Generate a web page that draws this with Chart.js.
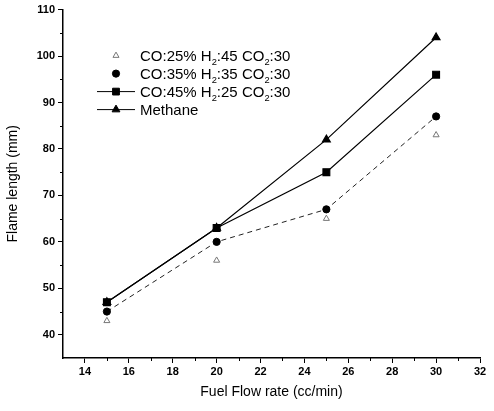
<!DOCTYPE html>
<html><head><meta charset="utf-8">
<script src="https://cdn.jsdelivr.net/npm/chart.js@4"></script>
<style>html,body{margin:0;padding:0;background:#fff}#w{width:494px;height:411px}</style>
</head><body><div id="w"><canvas id="c" width="494" height="411"></canvas></div>
<script>
const flowRates = [15, 20, 25, 30];
const co25 = [43, 56, 65, 83];
const co35 = [45, 60, 67, 87];
const co45 = [47, 63, 75, 96];
const methane = [47, 63, 82, 104];
const seriesNames = ['CO:25% H\u2082:45 CO\u2082:30', 'CO:35% H\u2082:35 CO\u2082:30', 'CO:45% H\u2082:25 CO\u2082:30', 'Methane'];
const xTickValues = [14, 16, 18, 20, 22, 24, 26, 28, 30, 32];
const yTickValues = [40, 50, 60, 70, 80, 90, 100, 110];
const xMinorValues = [15, 17, 19, 21, 23, 25, 27, 29, 31];
const yMinorValues = [45, 55, 65, 75, 85, 95, 105];

const pts = arr => arr.map((v, i) => ({x: flowRates[i], y: v}));
const FONT = 'Liberation Sans, Arial, sans-serif';

const datasets = [
  {label: seriesNames[0], data: pts(co25), showLine: false, pointStyle: 'triangle', pointRadius: 3.5,
   backgroundColor: '#fff', borderColor: '#777', pointBorderColor: '#777', pointBorderWidth: 1, legendLine: false},
  {label: seriesNames[1], data: pts(co35), showLine: true, borderDash: [5, 4], borderColor: '#222', borderWidth: 1,
   pointStyle: 'circle', pointRadius: 3.6, backgroundColor: '#000', pointBorderColor: '#000', legendLine: false},
  {label: seriesNames[2], data: pts(co45), showLine: true, borderColor: '#000', borderWidth: 1.2,
   pointStyle: 'rect', pointRadius: 4.8, backgroundColor: '#000', pointBorderColor: '#000', legendLine: true},
  {label: seriesNames[3], data: pts(methane), showLine: true, borderColor: '#000', borderWidth: 1.2,
   pointStyle: 'triangle', pointRadius: 4.5, backgroundColor: '#000', pointBorderColor: '#000', legendLine: true}
];

const SUBS = {'\u2082': '2'};
function drawRich(ctx, text, x, y, size) {
  let cx = x;
  for (const ch of text) {
    if (SUBS[ch]) {
      ctx.font = (size * 0.62) + 'px ' + FONT;
      ctx.fillText(SUBS[ch], cx, y + size * 0.38);
      cx += ctx.measureText(SUBS[ch]).width;
    } else {
      ctx.font = size + 'px ' + FONT;
      ctx.fillText(ch, cx, y);
      cx += ctx.measureText(ch).width;
    }
  }
}

const extras = {
  id: 'extras',
  afterDraw(chart) {
    const ctx = chart.ctx;
    const xs = chart.scales.x, ys = chart.scales.y;
    ctx.save();
    ctx.strokeStyle = '#000';
    ctx.lineWidth = 1;
    ctx.beginPath();
    xMinorValues.forEach(v => { const px = Math.round(xs.getPixelForValue(v)) + 0.5; ctx.moveTo(px, ys.bottom); ctx.lineTo(px, ys.bottom + 3); });
    yMinorValues.forEach(v => { const py = Math.round(ys.getPixelForValue(v)) + 0.5; ctx.moveTo(xs.left, py); ctx.lineTo(xs.left - 3, py); });
    ctx.stroke();
    // legend
    const lx = xs.left + 34, ly = ys.top + 46, rowH = 18;
    ctx.textBaseline = 'middle';
    chart.data.datasets.forEach((ds, i) => {
      const y = ly + i * rowH;
      const mx = lx + 19;
      if (ds.legendLine) {
        ctx.beginPath(); ctx.strokeStyle = '#000'; ctx.lineWidth = 1; ctx.setLineDash([]);
        ctx.moveTo(lx, y); ctx.lineTo(lx + 38, y); ctx.stroke();
      }
      ctx.fillStyle = ds.backgroundColor; ctx.strokeStyle = ds.pointBorderColor || ds.borderColor; ctx.lineWidth = 1;
      Chart.helpers.drawPoint(ctx, {pointStyle: ds.pointStyle, radius: ds.pointRadius, borderWidth: 1, rotation: 0}, mx, y);
      ctx.fillStyle = '#000';
      drawRich(ctx, ds.label, lx + 43, y + 1, 15);
    });
    ctx.restore();
  }
};

new Chart(document.getElementById('c'), {
  type: 'scatter',
  data: {datasets},
  options: {
    responsive: false, animation: false, devicePixelRatio: 1,
    layout: {padding: {left: 5, right: 14, top: 6, bottom: 10}},
    plugins: {legend: {display: false}, tooltip: {enabled: false}},
    scales: {
      x: {
        type: 'linear', min: 13, max: 32,
        afterBuildTicks: s => { s.ticks = xTickValues.map(v => ({value: v})); },
        grid: {display: true, drawOnChartArea: false, drawTicks: true, tickLength: 5, color: '#000'},
        border: {display: true, color: '#000', width: 1.5},
        ticks: {color: '#000', font: {family: FONT, size: 11, weight: 'bold'}, padding: 2, maxRotation: 0},
        title: {display: true, text: 'Fuel Flow rate (cc/min)', color: '#000', font: {family: FONT, size: 14}, padding: {top: 4, bottom: 0}}
      },
      y: {
        type: 'linear', min: 35, max: 110,
        afterBuildTicks: s => { s.ticks = yTickValues.map(v => ({value: v})); },
        afterFit: s => { s.width = 58; },
        grid: {display: true, drawOnChartArea: false, drawTicks: true, tickLength: 5, color: '#000'},
        border: {display: true, color: '#000', width: 1.5},
        ticks: {color: '#000', font: {family: FONT, size: 11, weight: 'bold'}, padding: 3},
        title: {display: true, text: 'Flame length (mm)', color: '#000', font: {family: FONT, size: 14}, padding: {top: 0, bottom: 4}}
      }
    }
  },
  plugins: [extras]
});
</script></body></html>
